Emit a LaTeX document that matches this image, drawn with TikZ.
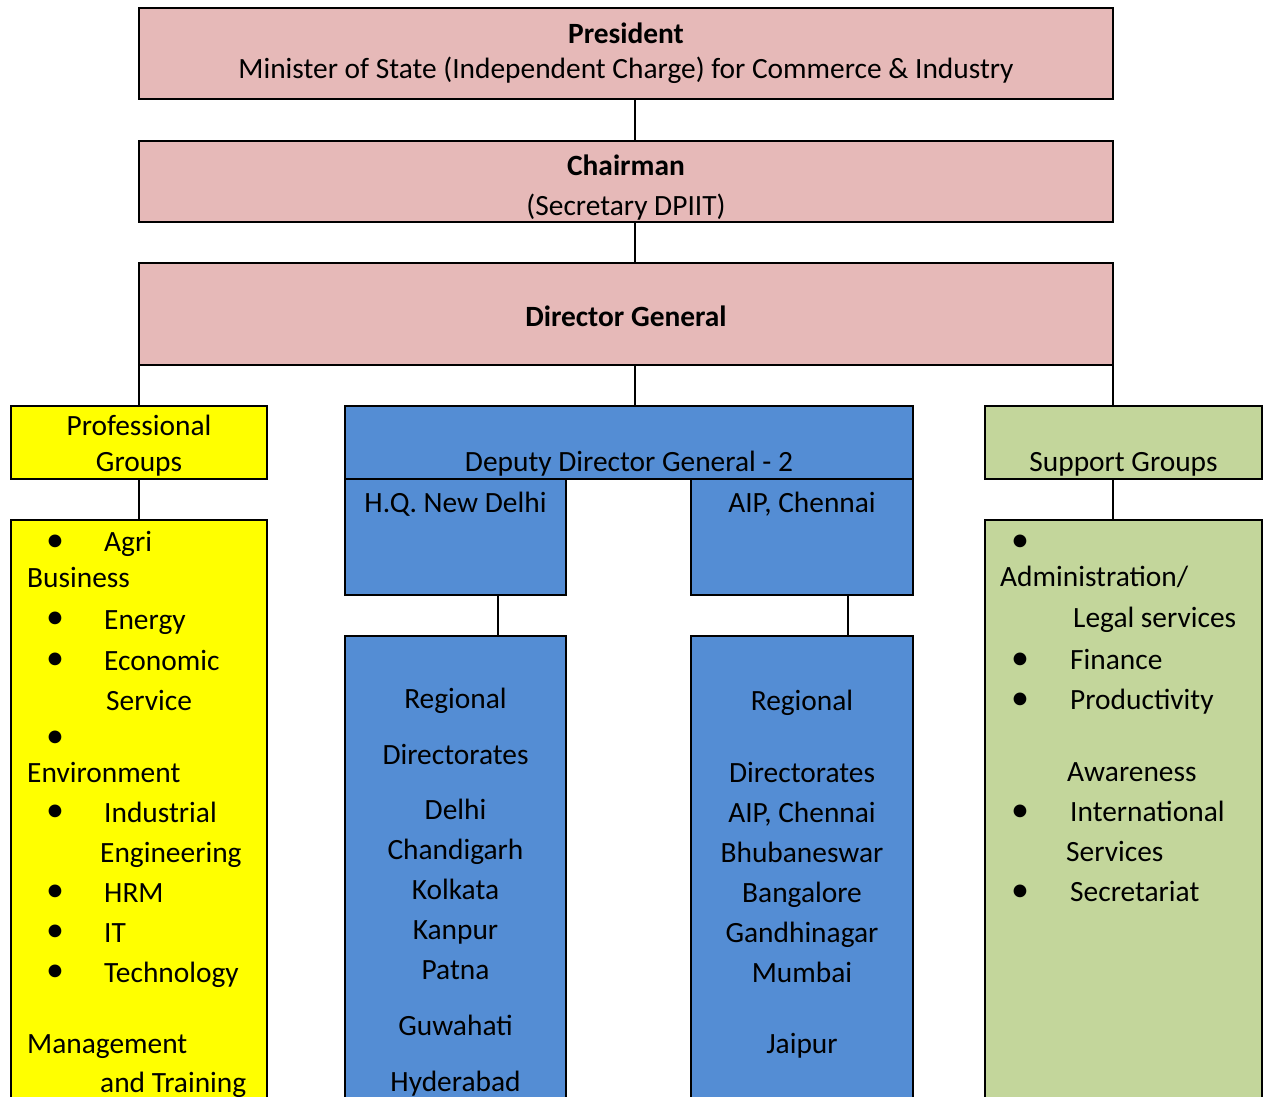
\documentclass[tikz,border=0pt]{standalone}
\usepackage{fontspec}
\setmainfont{Carlito}
\usetikzlibrary{positioning}

\definecolor{rosefill}{HTML}{E6B9B8}
\definecolor{yellowfill}{HTML}{FFFF00}
\definecolor{bluefill}{HTML}{548DD4}
\definecolor{greenfill}{HTML}{C3D69B}

\begin{document}
\begin{tikzpicture}[x=1pt, y=-1pt,
      every node/.style={font=\fontsize{29.4}{34}\selectfont},
      box/.style={draw=black, line width=2pt, inner sep=0pt, outer sep=0pt},
      rosebox/.style={box, fill=rosefill},
      yellowbox/.style={box, fill=yellowfill},
      bluebox/.style={box, fill=bluefill},
      greenbox/.style={box, fill=greenfill},
      word/.style={anchor=base, inner sep=0pt, yshift=-2pt},
      leftword/.style={anchor=base west, inner sep=0pt, yshift=-2pt},
      dot/.style={inner sep=0pt, yshift=-1pt, font=\fontsize{36}{36}\selectfont},
      link/.style={line width=2pt}]
      \useasboundingbox (0,0) rectangle (1263,1096);
      \clip (0,0) rectangle (1263,1096);
      % top chain
      \node[rosebox, minimum width=974, minimum height=91] (pres) at (626,53.5) {};
      \node[rosebox, minimum width=974, minimum height=81] (chair) at (626,181.5) {};
      \node[rosebox, minimum width=974, minimum height=102] (dg) at (626,314) {};
      \node[word, font=\fontsize{29.4}{34}\selectfont\bfseries] (presT) at (626,41) {President};
      \node[word] (presS) at (626,76) {Minister of State (Independent Charge) for Commerce \& Industry};
      \node[word, font=\fontsize{29.4}{34}\selectfont\bfseries] (chairT) at (626,173) {Chairman};
      \node[word] (chairS) at (626,213) {(Secretary DPIIT)};
      \node[word, font=\fontsize{29.4}{34}\selectfont\bfseries] (dgT) at (626,324) {Director General};
      \coordinate (spine) at (635,0);
      \coordinate (eastdrop) at (1113,0);
      \draw[link] (pres.south -| spine) -- (chair.north -| spine);
      \draw[link] (chair.south -| spine) -- (dg.north -| spine);
      % second row
      \node[yellowbox, minimum width=256, minimum height=73] (prof) at (139,442.5) {};
      \node[bluebox, minimum width=568, minimum height=73] (ddg) at (629,442.5) {};
      \node[greenbox, minimum width=277, minimum height=73] (supp) at (1123.5,442.5) {};
      \node[word] (profA) at (139,433) {Professional};
      \node[word] (profB) at (139,469) {Groups};
      \node[word] (ddgT) at (629,469) {Deputy Director General - 2};
      \node[word] (suppT) at (1123.5,469) {Support Groups};
      \draw[link] (prof.north |- dg.south) -- (prof.north);
      \draw[link] (dg.south -| spine) -- (ddg.north -| spine);
      \draw[link] (dg.south -| eastdrop) -- (supp.north -| eastdrop);
      % offices
      \node[bluebox, minimum width=221, minimum height=116, below right=0pt of ddg.south west] (hq) {};
      \node[bluebox, minimum width=222, minimum height=116, below left=0pt of ddg.south east] (aip) {};
      \node[word] (hqT) at (455.5,510) {H.Q. New Delhi};
      \node[word] (aipT) at (802,510) {AIP, Chennai};
      % lists
      \node[yellowbox, minimum width=256, minimum height=620, anchor=north] (profL) at (139,520) {};
      \node[greenbox, minimum width=277, minimum height=620, anchor=north] (suppL) at (1123.5,520) {};
      \node[bluebox, minimum width=221, minimum height=500, anchor=north] (hqL) at (455.5,636) {};
      \node[bluebox, minimum width=222, minimum height=500, anchor=north] (aipL) at (802,636) {};
      \draw[link] (prof.south) -- (profL.north);
      \draw[link] (supp.south -| eastdrop) -- (suppL.north -| eastdrop);
      \coordinate (hqdrop) at (498,0);
      \coordinate (aipdrop) at (848,0);
      \draw[link] (hq.south -| hqdrop) -- (hqL.north -| hqdrop);
      \draw[link] (aip.south -| aipdrop) -- (aipL.north -| aipdrop);
      % professional groups
      \foreach \xx/\yy/\tt [count=\i] in {104/549/Agri, 27/585/Business, 104/627/Energy,
          104/668/Economic, 106/708/Service, 27/780/Environment, 104/820/Industrial,
          100/860/Engineering, 104/900/HRM, 104/940/IT, 104/980/Technology,
          27/1051/Management, 100/1090/and Training}
        \node[leftword, name=pg\i] at (\xx,\yy) {\tt};
      \foreach \yy [count=\i] in {542,619,660,738,812,892,932,972}
        \node[dot, name=pgdot\i] at (55,\yy) {\textbullet};
      % support groups
      \foreach \xx/\yy/\tt [count=\i] in {1000/584/{Administration/}, 1073/625/Legal services,
          1070/667/Finance, 1070/707/Productivity, 1067/779/Awareness,
          1070/819/International, 1066/859/Services, 1070/899/Secretariat}
        \node[leftword, name=sg\i] at (\xx,\yy) {\tt};
      \foreach \yy [count=\i] in {542,660,700,812,892}
        \node[dot, name=sgdot\i] at (1020,\yy) {\textbullet};
      % regional directorates
      \foreach \yy/\tt [count=\i] in {706/Regional, 762/Directorates, 817/Delhi,
          857/Chandigarh, 897/Kolkata, 937/Kanpur, 977/Patna, 1033/Guwahati, 1089/Hyderabad}
        \node[word, name=hqd\i] at (455.5,\yy) {\tt};
      \foreach \yy/\tt [count=\i] in {708/Regional, 780/Directorates, 820/{AIP, Chennai},
          860/Bhubaneswar, 900/Bangalore, 940/Gandhinagar, 980/Mumbai, 1051/Jaipur}
        \node[word, name=aipd\i] at (802,\yy) {\tt};
\end{tikzpicture}
\end{document}
